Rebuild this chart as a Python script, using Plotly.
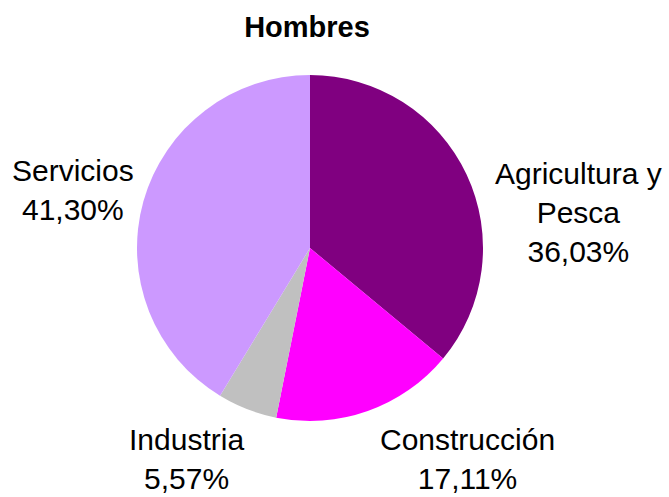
import plotly.graph_objects as go

categories = ["Agricultura y Pesca", "Construcción", "Industria", "Servicios"]
label_lines = ["Agricultura y<br>Pesca", "Construcción", "Industria", "Servicios"]
values = [36.03, 17.11, 5.57, 41.30]
colors = ["#800080", "#FF00FF", "#C0C0C0", "#CC99FF"]
title_text = "Hombres"

W, H = 669, 497

fig = go.Figure(go.Pie(
    labels=categories,
    values=values,
    sort=False,
    direction="clockwise",
    rotation=0,
    marker=dict(colors=colors, line=dict(width=0)),
    textinfo="none",
    hoverinfo="label+percent",
    domain=dict(x=[137 / W, 483 / W], y=[1 - 421 / H, 1 - 75 / H]),
    showlegend=False,
))

# label anchor positions (pixels) for each category
label_pos = [(578, 212), (467, 459), (186, 459), (73, 190)]

def fmt(v):
    return f"{v:.2f}".replace(".", ",") + "%"

for txt, v, (px, py) in zip(label_lines, values, label_pos):
    fig.add_annotation(
        x=px / W, y=1 - py / H, xref="paper", yref="paper",
        text=f"{txt}<br>{fmt(v)}", showarrow=False,
        xanchor="center", yanchor="middle", align="center",
        font=dict(family="Liberation Sans, Arial", size=30, color="black"),
    )

fig.update_layout(
    width=W, height=H,
    margin=dict(l=0, r=0, t=0, b=0),
    paper_bgcolor="white", plot_bgcolor="white",
    title=dict(text=f"<b>{title_text}</b>", x=307 / W, xanchor="center",
               y=1 - 27 / H, yanchor="middle", yref="container",
               font=dict(family="Liberation Sans, Arial", size=29, color="black")),
)

fig.write_html(
    "out.html",
    config={"displayModeBar": False},
    post_script="document.body.style.margin='0';document.body.style.padding='0';",
)
